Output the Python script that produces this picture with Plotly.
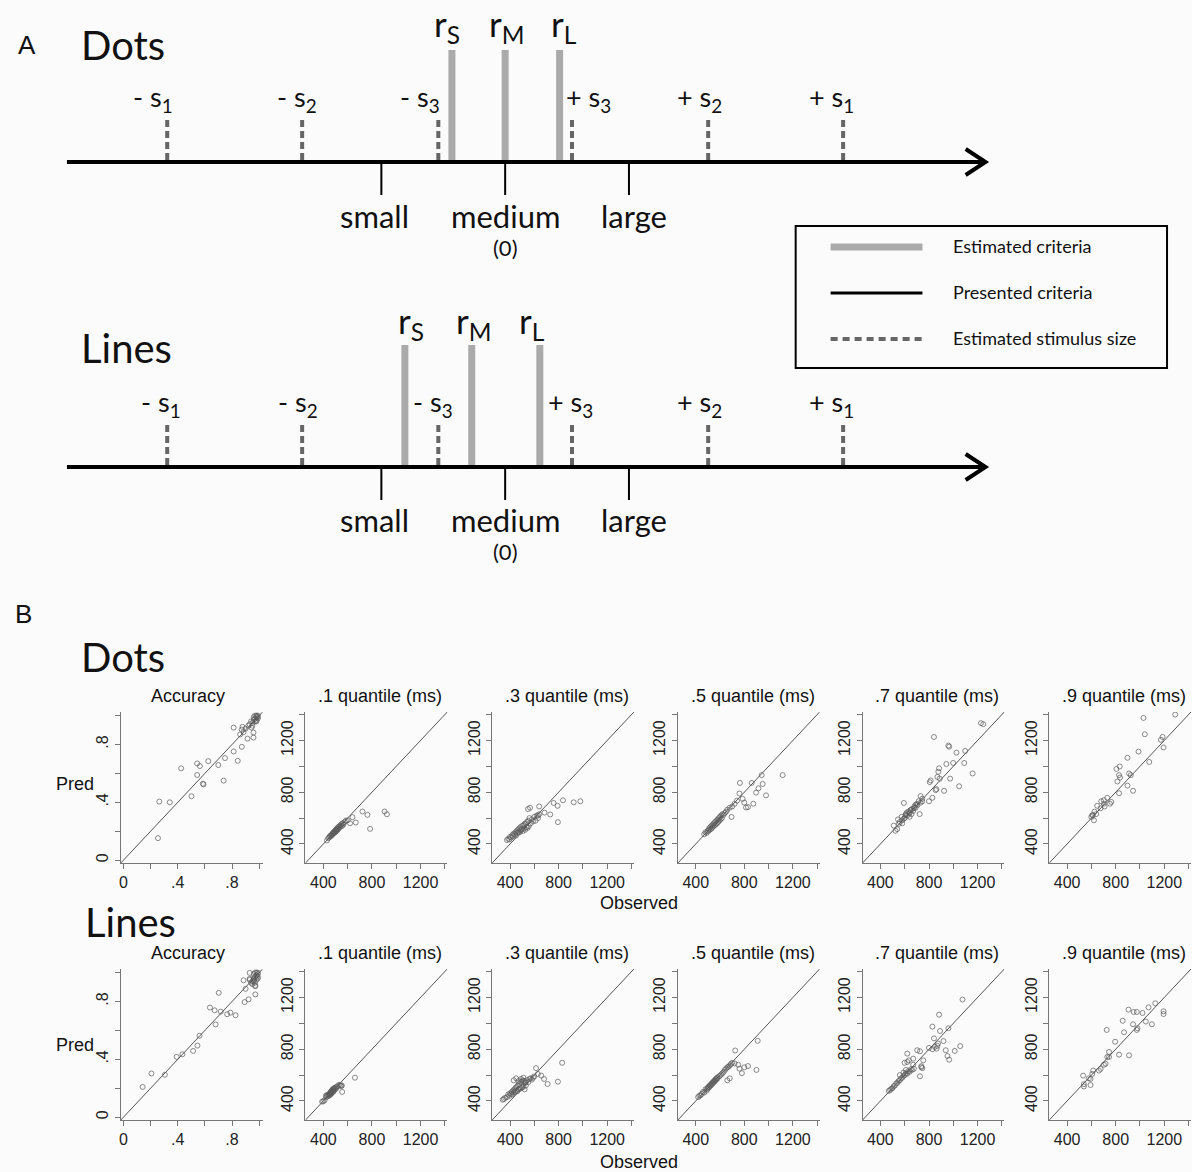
import plotly.graph_objects as go

W, H = 1192, 1172

# ---------------- Panel A data (schematic units; presented criteria: small=-1, medium=0, large=+1)
presented_labels = ["small", "medium", "large"]
presented_pos = [-1.0, 0.0, 1.0]
criteria_labels = ["r<sub>S</sub>", "r<sub>M</sub>", "r<sub>L</sub>"]
dots_criteria = [-0.43, 0.0, 0.44]
lines_criteria = [-0.81, -0.27, 0.28]
stim_labels = ["- s<sub>1</sub>", "- s<sub>2</sub>", "- s<sub>3</sub>",
               "+ s<sub>3</sub>", "+ s<sub>2</sub>", "+ s<sub>1</sub>"]
dots_stimulus = [-2.73, -1.64, -0.54, 0.54, 1.64, 2.73]
lines_stimulus = [-2.73, -1.64, -0.54, 0.54, 1.64, 2.73]
axis_extent = [-3.54, 3.88]
legend_labels = ["Estimated criteria", "Presented criteria", "Estimated stimulus size"]

# ---------------- Panel B data
panel_titles = ["Accuracy", ".1 quantile (ms)", ".3 quantile (ms)",
                ".5 quantile (ms)", ".7 quantile (ms)", ".9 quantile (ms)"]
acc_ticks = [0, 0.2, 0.4, 0.6, 0.8, 1.0]
acc_ticktext = ["0", "", ".4", "", ".8", ""]
rt_ticks = [400, 600, 800, 1000, 1200, 1400]
rt_ticktext = ["400", "", "800", "", "1200", ""]
acc_range = [-0.02, 1.025]
rt_range = [253, 1420]

dots_acc_obs = [0.254, 0.264, 0.341, 0.425, 0.501, 0.543, 0.563, 0.543, 0.585, 0.590,
                0.625, 0.699, 0.738, 0.748, 0.812, 0.842, 0.812, 0.872, 0.872, 0.877,
                0.914, 0.943, 0.958, 0.958, 0.97, 0.98, 0.99, 0.98, 0.97, 0.96,
                0.99, 0.95, 0.93, 0.94, 0.96, 0.98, 0.99, 0.97, 0.92, 0.90,
                0.95, 0.98, 0.885, 0.86]
dots_acc_pred = [0.152, 0.405, 0.400, 0.635, 0.442, 0.669, 0.651, 0.589, 0.529, 0.524,
                 0.685, 0.658, 0.550, 0.706, 0.752, 0.687, 0.917, 0.784, 0.903, 0.922,
                 0.841, 0.917, 0.883, 0.848, 0.98, 0.99, 1.00, 0.97, 0.96, 0.97,
                 0.98, 0.95, 0.94, 0.96, 0.99, 1.00, 0.99, 1.00, 0.93, 0.91,
                 0.93, 0.96, 0.885, 0.87]

dots_q1_obs = [430, 440, 448, 455, 460, 465, 470, 475, 478, 482,
               486, 490, 494, 498, 502, 505, 508, 512, 515, 518,
               522, 525, 530, 535, 540, 545, 550, 555, 560, 565,
               575, 585, 600, 620, 640, 667, 722, 763, 785, 904,
               923]
dots_q1_pred = [428, 445, 450, 462, 458, 470, 468, 480, 476, 490,
                484, 495, 488, 500, 510, 498, 515, 505, 520, 512,
                530, 518, 535, 528, 545, 538, 555, 540, 560, 550,
                570, 580, 583, 560, 607, 566, 651, 625, 517, 651,
                630]

dots_q3_obs = [375, 385, 395, 400, 410, 420, 425, 430, 440, 445,
               450, 455, 460, 465, 470, 475, 480, 485, 490, 495,
               500, 505, 510, 515, 520, 525, 530, 535, 540, 545,
               550, 555, 560, 570, 580, 590, 600, 610, 620, 630,
               640, 548, 565, 640, 630, 684, 731, 759, 792, 794,
               836, 924, 979]
dots_q3_pred = [430, 440, 435, 455, 450, 470, 460, 480, 475, 490,
                465, 500, 485, 510, 495, 520, 490, 530, 505, 515,
                540, 500, 545, 520, 555, 510, 560, 530, 570, 525,
                580, 540, 600, 560, 590, 575, 610, 580, 620, 600,
                630, 670, 680, 690, 620, 642, 628, 717, 695, 569,
                738, 722, 730]

dots_q5_obs = [470, 480, 490, 500, 505, 510, 515, 520, 525, 530,
               535, 540, 545, 550, 555, 560, 565, 570, 575, 580,
               585, 590, 595, 600, 605, 610, 615, 620, 630, 640,
               650, 660, 680, 700, 720, 740, 695, 764, 786, 814,
               830, 861, 874, 897, 916, 943, 951, 979, 1116, 760,
               800]
dots_q5_pred = [475, 490, 485, 505, 500, 520, 510, 530, 515, 540,
                525, 550, 535, 560, 545, 570, 550, 580, 560, 590,
                570, 600, 580, 610, 590, 620, 600, 630, 625, 640,
                650, 665, 680, 690, 710, 735, 609, 872, 749, 682,
                685, 872, 711, 797, 830, 932, 864, 776, 932, 790,
                720]

dots_q7_obs = [524, 538, 510, 552, 579, 593, 545, 560, 575, 600,
               610, 620, 630, 640, 650, 655, 660, 670, 680, 690,
               700, 705, 715, 730, 745, 607, 634, 648, 593, 676,
               690, 723, 731, 745, 800, 828, 855, 861, 869, 888,
               877, 883, 943, 999, 924, 974, 1048, 1090, 1159, 1098,
               1026, 966, 960, 841, 1228, 1247, 580, 615, 640, 814,
               806]
dots_q7_pred = [502, 515, 542, 556, 583, 596, 590, 570, 610, 600,
                630, 620, 650, 640, 660, 630, 670, 655, 690, 680,
                710, 700, 730, 720, 750, 623, 636, 663, 717, 677,
                703, 631, 770, 730, 730, 757, 816, 824, 918, 905,
                958, 985, 1018, 1026, 811, 905, 846, 1026, 945, 1119,
                1106, 1152, 1160, 1227, 1334, 1326, 560, 640, 610, 891,
                878]

dots_q9_obs = [1290, 1029, 1040, 1186, 1172, 988, 897, 1194, 1076, 833,
               806, 910, 836, 814, 828, 924, 897, 828, 943, 731,
               703, 764, 753, 703, 681, 709, 676, 648, 626, 612,
               621, 640, 599, 607]
dots_q9_pred = [1400, 1374, 1248, 1227, 1205, 1114, 1066, 1146, 1034, 999,
                980, 945, 913, 883, 932, 932, 851, 792, 811, 757,
                738, 725, 711, 711, 730, 690, 676, 695, 650, 623,
                583, 631, 609, 623]

lines_acc_obs = [0.141, 0.206, 0.305, 0.392, 0.434, 0.513, 0.545, 0.560, 0.637, 0.672,
                 0.679, 0.702, 0.717, 0.764, 0.788, 0.826, 0.893, 0.922, 0.885, 0.900,
                 0.930, 0.930, 0.972, 0.972, 0.95, 0.96, 0.97, 0.98, 0.99, 0.97,
                 0.96, 0.98, 0.99, 0.95, 0.94, 0.97, 0.98, 0.99, 0.96, 0.98,
                 0.99, 0.93, 0.97, 0.96]
lines_acc_pred = [0.209, 0.302, 0.293, 0.417, 0.435, 0.458, 0.495, 0.563, 0.758, 0.739,
                  0.641, 0.860, 0.730, 0.712, 0.723, 0.705, 0.796, 0.815, 0.947, 0.888,
                  0.957, 0.998, 0.849, 0.906, 0.94, 0.96, 0.97, 0.98, 0.99, 1.00,
                  0.99, 0.95, 0.97, 0.92, 0.93, 0.93, 1.00, 0.96, 0.95, 0.98,
                  1.00, 0.95, 0.91, 0.94]

lines_q1_obs = [390, 400, 410, 420, 425, 430, 435, 440, 445, 450,
                452, 455, 458, 460, 462, 465, 468, 470, 472, 475,
                478, 480, 483, 485, 488, 490, 495, 500, 505, 510,
                520, 530, 540, 548, 552, 555, 660]
lines_q1_pred = [395, 398, 405, 440, 430, 445, 435, 450, 440, 455,
                 445, 460, 450, 470, 455, 475, 460, 480, 465, 490,
                 470, 485, 475, 495, 480, 500, 490, 505, 495, 510,
                 515, 525, 520, 515, 520, 470, 580]

lines_q3_obs = [340, 350, 360, 375, 385, 395, 400, 410, 415, 420,
                425, 430, 435, 440, 445, 450, 455, 460, 465, 470,
                475, 480, 485, 490, 495, 500, 505, 510, 515, 520,
                525, 530, 540, 550, 560, 570, 580, 590, 600, 614,
                629, 657, 680, 709, 794, 829, 430, 450, 470, 490,
                510, 530]
lines_q3_pred = [410, 415, 425, 430, 450, 440, 460, 455, 470, 450,
                 480, 465, 490, 470, 500, 480, 510, 475, 520, 490,
                 530, 495, 545, 500, 550, 505, 560, 510, 555, 490,
                 540, 520, 560, 545, 570, 575, 565, 580, 590, 654,
                 609, 596, 570, 531, 549, 695, 560, 575, 555, 570,
                 580, 545]

lines_q5_obs = [420, 430, 440, 450, 460, 470, 480, 490, 495, 500,
                505, 510, 515, 520, 525, 530, 535, 540, 545, 550,
                555, 560, 565, 570, 575, 580, 590, 600, 610, 620,
                630, 640, 650, 660, 670, 680, 690, 700, 725, 910,
                900, 780, 760, 800, 830, 750, 720, 680, 660]
lines_q5_pred = [430, 440, 445, 455, 470, 465, 490, 480, 500, 495,
                 510, 505, 520, 515, 530, 525, 540, 535, 550, 545,
                 560, 555, 570, 565, 580, 575, 590, 595, 605, 615,
                 625, 640, 650, 660, 665, 675, 685, 695, 790, 865,
                 640, 615, 650, 660, 670, 680, 690, 575, 560]

lines_q7_obs = [469, 480, 490, 500, 510, 520, 530, 540, 550, 560,
                570, 580, 590, 600, 610, 620, 630, 640, 650, 660,
                676, 670, 1076, 883, 828, 891, 841, 960, 919, 874,
                800, 828, 848, 863, 869, 938, 1012, 1057, 952, 966,
                703, 726, 621, 599, 621, 634, 753, 737, 745, 737,
                726, 670, 560, 590, 610]
lines_q7_pred = [478, 485, 495, 500, 515, 520, 535, 540, 555, 560,
                 575, 580, 595, 600, 615, 610, 630, 625, 645, 640,
                 648, 727, 1184, 1067, 975, 941, 884, 962, 863, 844,
                 810, 800, 818, 805, 826, 792, 787, 824, 748, 719,
                 792, 784, 766, 695, 701, 714, 714, 669, 654, 661,
                 591, 680, 600, 620, 640]

lines_q9_obs = [1126, 1194, 1194, 1070, 905, 948, 974, 1021, 858, 943,
                979, 974, 1048, 1098, 726, 795, 869, 745, 745, 731,
                828, 910, 717, 703, 676, 662, 615, 607, 593, 532,
                593, 538, 538, 579]
lines_q9_pred = [1155, 1093, 1072, 1124, 1106, 1088, 1088, 1080, 1020, 993,
                 962, 949, 1014, 993, 949, 858, 931, 779, 740, 740,
                 758, 753, 688, 680, 648, 635, 635, 609, 570, 596,
                 523, 530, 512, 575]

panels = [
    (dots_acc_obs, dots_acc_pred), (dots_q1_obs, dots_q1_pred), (dots_q3_obs, dots_q3_pred),
    (dots_q5_obs, dots_q5_pred), (dots_q7_obs, dots_q7_pred), (dots_q9_obs, dots_q9_pred),
    (lines_acc_obs, lines_acc_pred), (lines_q1_obs, lines_q1_pred), (lines_q3_obs, lines_q3_pred),
    (lines_q5_obs, lines_q5_pred), (lines_q7_obs, lines_q7_pred), (lines_q9_obs, lines_q9_pred),
]

# ---------------- layout helpers (pixel positions)
def fx(px):
    return px / W

def fy(py):
    return 1 - py / H

COL_LEFT = [119, 304, 491, 677, 862, 1049]
PLOT_W = 142
ROW_TOP = [712, 969]
PLOT_H = 151
SANS = "Liberation Sans, Arial, sans-serif"
CAL = "Lato, Open Sans, sans-serif"
BG = "#fbfbfb"

fig = go.Figure()
layout = dict(width=W, height=H, margin=dict(l=0, r=0, t=0, b=0),
              paper_bgcolor=BG, plot_bgcolor="rgba(0,0,0,0)", showlegend=False)
annotations = []
shapes = []


def note(text, x, y, size, family=SANS, xref="paper", yref="paper", **kw):
    d = dict(text=text, xref=xref, yref=yref, x=x, y=y, showarrow=False,
             xanchor="center", yanchor="middle",
             font=dict(family=family, size=size, color="#111"))
    d.update(kw)
    annotations.append(d)


for i, (obs, pred) in enumerate(panels):
    r, c = divmod(i, 6)
    n = i + 1
    rng = acc_range if c == 0 else rt_range
    tv = acc_ticks if c == 0 else rt_ticks
    tt = acc_ticktext if c == 0 else rt_ticktext
    left, top = COL_LEFT[c], ROW_TOP[r]
    ax_common = dict(range=rng, showgrid=False, zeroline=False, showline=True,
                     linecolor="#777", linewidth=1, ticks="outside", ticklen=5,
                     tickcolor="#777", tickvals=tv, ticktext=tt,
                     tickfont=dict(family=SANS, size=16, color="#222"))
    layout[f"xaxis{n}"] = dict(domain=[fx(left), fx(left + PLOT_W)], anchor=f"y{n}", **ax_common)
    layout[f"yaxis{n}"] = dict(domain=[fy(top + PLOT_H), fy(top)], anchor=f"x{n}",
                               tickangle=-90, **ax_common)
    fig.add_trace(go.Scatter(x=rng, y=rng, mode="lines", xaxis=f"x{n}", yaxis=f"y{n}",
                             line=dict(color="#555", width=1), hoverinfo="skip"))
    fig.add_trace(go.Scatter(x=obs, y=pred, mode="markers", xaxis=f"x{n}", yaxis=f"y{n}",
                             marker=dict(symbol="circle-open", size=5,
                                         color="rgba(90,90,90,0.7)",
                                         line=dict(width=1))))
    note(panel_titles[c], fx(left + PLOT_W / 2 + (-4 if c == 0 else 4)), fy(top - 16), 18)

# axis labels for panel B
for oy, py_ in [(903, 784), (1162, 1045)]:
    note("Observed", fx(638), fy(oy), 18)
    note("Pred", fx(73), fy(py_), 18)

note("B", fx(22), fy(614), 26)
note("A", fx(25), fy(45), 26)
for txt, xc, yc in [("Dots", 121, 657), ("Dots", 121, 45), ("Lines", 125, 348), ("Lines", 129, 922)]:
    note(txt, fx(xc), fy(yc), 40, family=CAL)

# ---------------- Panel A on a schematic axis (x in criterion units, y in pixel rows)
UNIT = 124.0
X0 = 504.0
layout["xaxis13"] = dict(domain=[0, 1], range=[(0 - X0) / UNIT, (W - X0) / UNIT],
                         visible=False, anchor="y13", fixedrange=True)
layout["yaxis13"] = dict(domain=[0, 1], range=[H, 0], visible=False, anchor="x13", fixedrange=True)


def vlines(xs, y0, y1):
    X, Y = [], []
    for v in xs:
        X += [v, v, None]
        Y += [y0, y1, None]
    return X, Y


sections = [
    dict(ay=162, crit=dots_criteria, stim=dots_stimulus, ctop=50, stop=120,
         ry=25, sy=98, wy=216, sshift=[-14, -5, -18, 16, -9, -12], rshift=[-5, 2, 4]),
    dict(ay=467, crit=lines_criteria, stim=lines_stimulus, ctop=345, stop=425,
         ry=322, sy=403, wy=520, sshift=[-6, -4, -5, -2, -9, -12], rshift=[6, 2, -8]),
]

for s in sections:
    ay = s["ay"]
    fig.add_trace(go.Scatter(x=[axis_extent[0], axis_extent[1] - 0.02], y=[ay, ay], mode="lines",
                             xaxis="x13", yaxis="y13", line=dict(color="#000", width=4),
                             hoverinfo="skip"))
    fig.add_trace(go.Scatter(x=[axis_extent[1] - 0.16, axis_extent[1], axis_extent[1] - 0.16],
                             y=[ay - 13, ay, ay + 13], mode="lines", xaxis="x13", yaxis="y13",
                             line=dict(color="#000", width=4), hoverinfo="skip"))
    X, Y = vlines(s["crit"], s["ctop"], ay - 2)
    fig.add_trace(go.Scatter(x=X, y=Y, mode="lines", xaxis="x13", yaxis="y13",
                             line=dict(color="#aaaaaa", width=7), hoverinfo="skip"))
    X, Y = vlines(s["stim"], s["stop"], ay)
    fig.add_trace(go.Scatter(x=X, y=Y, mode="lines", xaxis="x13", yaxis="y13",
                             line=dict(color="#666666", width=4, dash="7px,4px"), hoverinfo="skip"))
    X, Y = vlines(presented_pos, ay, ay + 33)
    fig.add_trace(go.Scatter(x=X, y=Y, mode="lines", xaxis="x13", yaxis="y13",
                             line=dict(color="#000", width=2), hoverinfo="skip"))
    for lab, xv, sh in zip(criteria_labels, s["crit"], s["rshift"]):
        note(lab, xv, s["ry"], 35, family=CAL, xref="x13", yref="y13", xshift=sh)
    for lab, xv, sh in zip(stim_labels, s["stim"], s["sshift"]):
        note(lab, xv, s["sy"], 27, family=CAL, xref="x13", yref="y13", xshift=sh)
    for lab, xv, sh in zip(presented_labels, presented_pos, [-7, 0, 5]):
        note(lab, xv, s["wy"], 31, family=CAL, xref="x13", yref="y13", xshift=sh)
    note("(0)", presented_pos[1], s["wy"] + 31, 22, family=CAL, xref="x13", yref="y13")

# legend box
shapes.append(dict(type="rect", xref="paper", yref="paper", x0=fx(795), x1=fx(1167),
                   y0=fy(368), y1=fy(226), line=dict(color="#000", width=2)))
leg_styles = [dict(color="#aaaaaa", width=7), dict(color="#000", width=3),
              dict(color="#666666", width=4, dash="7px,5px")]
for k, (lab, st) in enumerate(zip(legend_labels, leg_styles)):
    yy = 247 + k * 46
    shapes.append(dict(type="line", xref="paper", yref="paper", x0=fx(830), x1=fx(922),
                       y0=fy(yy), y1=fy(yy), line=st))
    note(lab, fx(951), fy(yy - 1), 18, family=CAL, xanchor="left")

layout["annotations"] = annotations
layout["shapes"] = shapes
fig.update_layout(**layout)
fig.write_html("out.html", config={"displayModeBar": False},
               post_script="document.body.style.margin='0';document.body.style.padding='0';")
